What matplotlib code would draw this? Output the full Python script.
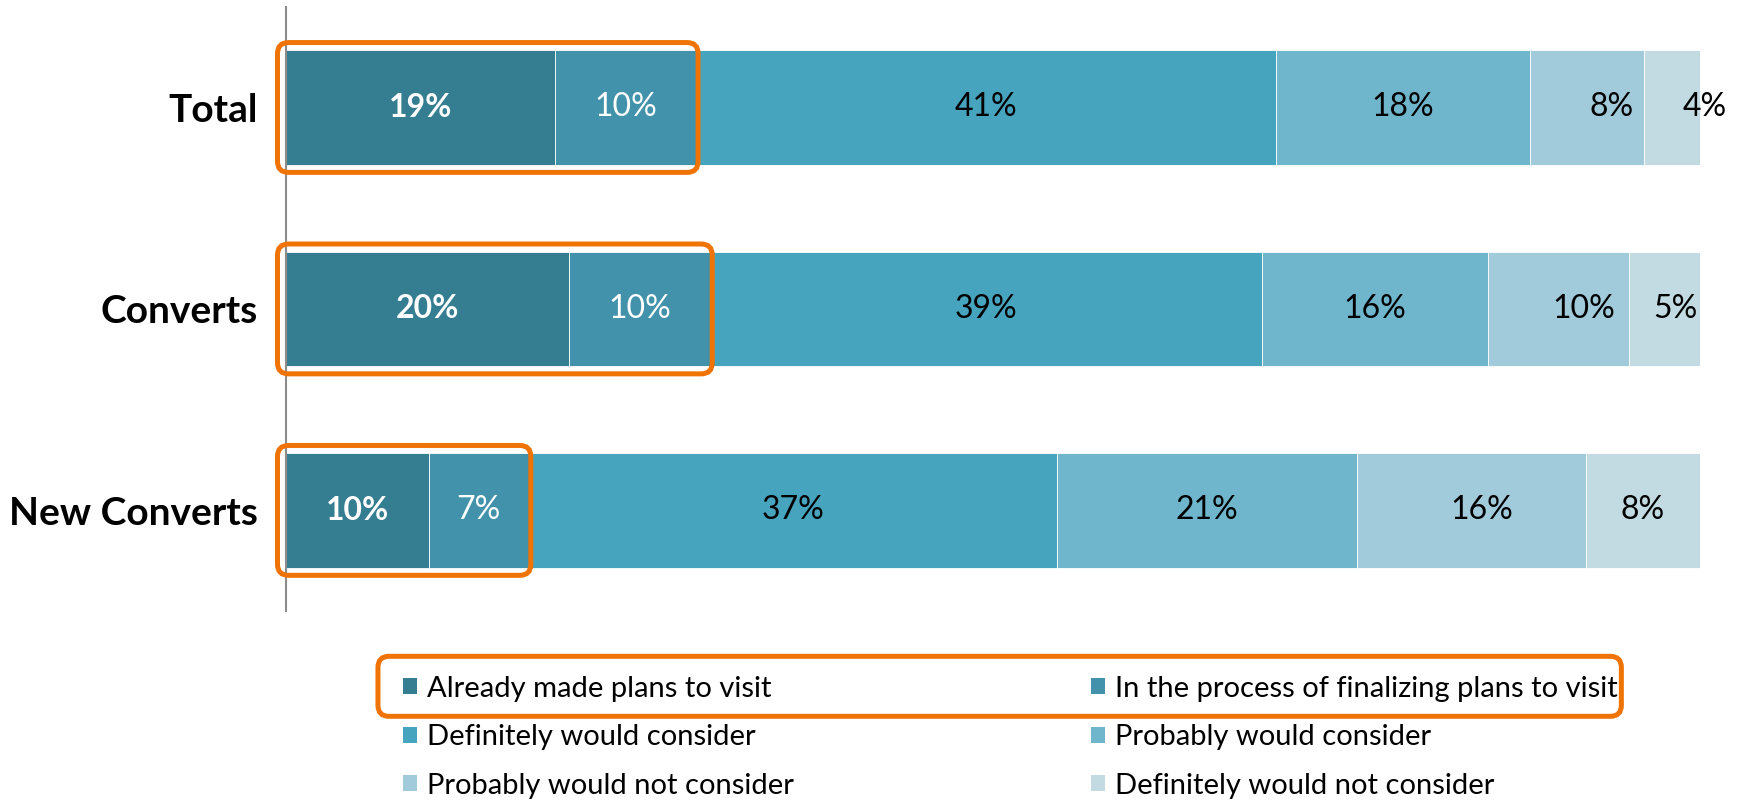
import matplotlib
matplotlib.use("Agg")
import matplotlib.pyplot as plt
from matplotlib.patches import FancyBboxPatch, Patch
import numpy as np

plt.rcParams['font.family'] = ['Lato', 'DejaVu Sans']

groups = ["Total", "Converts", "New Converts"]
series = [
    "Already made plans to visit",
    "In the process of finalizing plans to visit",
    "Definitely would consider",
    "Probably would consider",
    "Probably would not consider",
    "Definitely would not consider",
]
# percentages per group, one list per series
already = [19, 20, 10]
finalizing = [10, 10, 7]
def_consider = [41, 39, 37]
prob_consider = [18, 16, 21]
prob_not = [8, 10, 16]
def_not = [4, 5, 8]

colors = ["#357D91", "#4192AA", "#47A4BF", "#6FB6CD", "#A1CADA", "#C2DBE3"]
text_colors = ["white", "white", "black", "black", "black", "black"]
text_weights = ["bold", "normal", "normal", "normal", "normal", "normal"]
orange = "#F07306"

values = np.array([already, finalizing, def_consider, prob_consider, prob_not, def_not], dtype=float)
shares = values / values.sum(axis=0) * 100  # 100% stacked

# horizontal nudges (points) for a few labels near the right end
nudge = {(4, 0): 18, (5, 0): 24, (4, 1): 18, (5, 1): 8, (4, 2): 7}

fig = plt.figure(figsize=(17.46, 8.02), dpi=100)
ax = fig.add_axes([0.1638, 0.238, 0.8099, 0.7536])

y = np.arange(len(groups))
left = np.zeros(len(groups))
for i, name in enumerate(series):
    ax.barh(y, shares[i], left=left, height=0.57, color=colors[i],
            edgecolor="white", linewidth=0.6, label=name)
    for j in range(len(groups)):
        cx = left[j] + shares[i][j] / 2
        ax.annotate(f"{values[i][j]:.0f}%", (cx, y[j]),
                    xytext=(nudge.get((i, j), 0), 0), textcoords="offset points",
                    ha="center", va="center", fontsize=23,
                    color=text_colors[i], fontweight=text_weights[i])
    left += shares[i]

ax.set_xlim(0, 100)
ax.set_ylim(2.5, -0.5)
ax.set_yticks(y)
ax.set_yticklabels(groups, fontsize=28, fontweight="bold")
ax.tick_params(axis="y", length=0, pad=20)
ax.tick_params(axis="x", length=0, labelbottom=False)
for s in ["top", "right", "bottom"]:
    ax.spines[s].set_visible(False)
ax.spines["left"].set_color("#8C8C8C")
ax.spines["left"].set_linewidth(1.5)

handles = [Patch(facecolor=c, edgecolor="none") for c in colors]
order = [0, 2, 4, 1, 3, 5]
leg = fig.legend([handles[k] for k in order], [series[k] for k in order],
                 ncol=2, loc="upper left", bbox_to_anchor=(0.2308, 0.1575),
                 frameon=False, fontsize=21, handlelength=0.48, handleheight=0.48,
                 handletextpad=0.33, columnspacing=10.2, labelspacing=0.77,
                 borderaxespad=0, borderpad=0)

fig.canvas.draw()
renderer = fig.canvas.get_renderer()

# rounded highlight around the first two segments of each bar
to_px = ax.transData
for j in range(len(groups)):
    end = shares[0][j] + shares[1][j]
    x0 = to_px.transform((0, y[j]))[0] - 8.5
    x1 = to_px.transform((end, y[j]))[0] + 2
    ytop = to_px.transform((0, y[j] - 0.57 / 2))[1]
    ybot = to_px.transform((0, y[j] + 0.57 / 2))[1]
    y0, y1 = min(ytop, ybot) - 7.5, max(ytop, ybot) + 7.5
    fig.patches.append(FancyBboxPatch((x0, y0), x1 - x0, y1 - y0,
                                      boxstyle="round,pad=0,rounding_size=11",
                                      transform=None, fill=False,
                                      edgecolor=orange, linewidth=3.6, zorder=10))

# rounded highlight around the first legend row
texts = leg.get_texts()
h_ext = [h.get_window_extent(renderer) for h in leg.legend_handles]
t1 = texts[3].get_window_extent(renderer)
lx0 = h_ext[0].x0 - 25
lx1 = t1.x1 + 4
cy = (h_ext[0].y0 + h_ext[0].y1) / 2
ly0, ly1 = cy - 30, cy + 30
fig.patches.append(FancyBboxPatch((lx0, ly0), lx1 - lx0, ly1 - ly0,
                                  boxstyle="round,pad=0,rounding_size=11",
                                  transform=None, fill=False,
                                  edgecolor=orange, linewidth=3.6, zorder=10))

fig.savefig("out.png", dpi=100)
